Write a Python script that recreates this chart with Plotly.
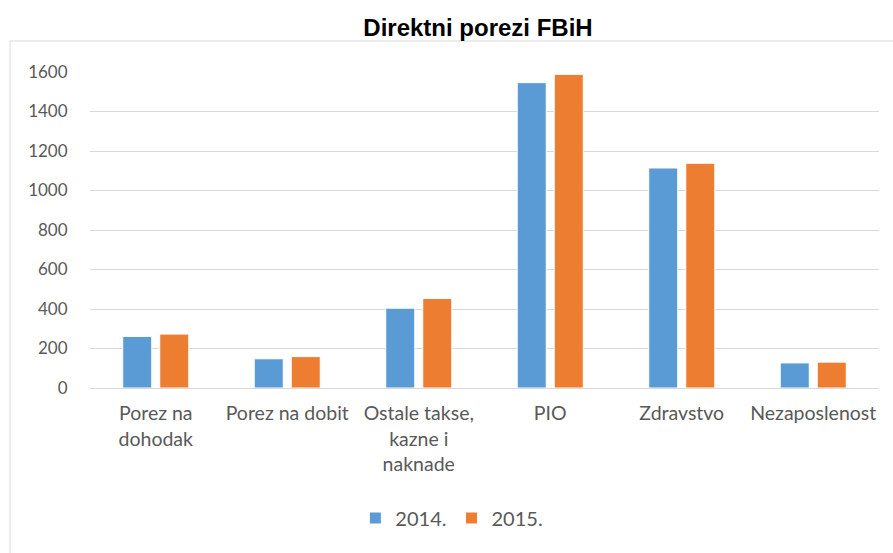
import plotly.graph_objects as go

categories = ["Porez na<br>dohodak", "Porez na dobit", "Ostale takse,<br>kazne i<br>naknade",
              "PIO", "Zdravstvo", "Nezaposlenost"]
values_2014 = [261, 148, 404, 1546, 1114, 127]
values_2015 = [273, 159, 453, 1588, 1138, 131]
y_ticks = [0, 200, 400, 600, 800, 1000, 1200, 1400, 1600]

FONT = "Lato"
TXT = "#595959"

fig = go.Figure()
fig.add_trace(go.Bar(name="2014.", x=categories, y=values_2014,
                     marker=dict(color="#5b9bd5", line=dict(color="white", width=1))))
fig.add_trace(go.Bar(name="2015.", x=categories, y=values_2015,
                     marker=dict(color="#ed7d31", line=dict(color="white", width=1))))

W, H = 893, 553
L, R, T, B = 90, 14, 72, 165
pw, ph = W - L - R, H - T - B

def px_x(x):
    return (x - L) / pw

def px_y(y):
    return 1 - (y - T) / ph

fig.update_layout(
    width=W, height=H,
    margin=dict(l=L, r=R, t=T, b=B),
    paper_bgcolor="white", plot_bgcolor="white",
    barmode="group", bargap=0.437, bargroupgap=0.216,
    title=dict(text="<b>Direktni porezi FBiH</b>", x=478 / W, xref="container", xanchor="center",
               y=1 - 28 / H, yref="container", yanchor="middle",
               font=dict(family="Liberation Sans", size=24, color="black")),
    font=dict(family=FONT, size=19.5, color=TXT),
    legend=dict(orientation="h", x=0.506, xref="container", xanchor="center",
                y=1 - 518 / H, yref="container", yanchor="middle",
                font=dict(family=FONT, size=20, color=TXT),
                itemwidth=30, traceorder="normal"),
    xaxis=dict(showgrid=False, showline=False, ticks="outside", ticklen=8, tickcolor="white",
               tickfont=dict(family=FONT, size=19.5, color=TXT)),
    yaxis=dict(range=[0, 1600], tickvals=y_ticks, showgrid=True, gridcolor="#d9d9d9", gridwidth=1,
               zeroline=True, zerolinecolor="#d9d9d9", zerolinewidth=1, showline=False,
               ticks="outside", ticklen=18, tickcolor="white",
               tickfont=dict(family=FONT, size=17, color=TXT)),
    shapes=[dict(type="rect", xref="paper", yref="paper",
                 x0=px_x(10), x1=px_x(W + 20), y0=px_y(H + 20), y1=px_y(41),
                 line=dict(color="#d9d9d9", width=1), fillcolor="rgba(0,0,0,0)", layer="below")],
)

fig.write_html("out.html", config={"displayModeBar": False},
               post_script="document.body.style.margin='0';")
